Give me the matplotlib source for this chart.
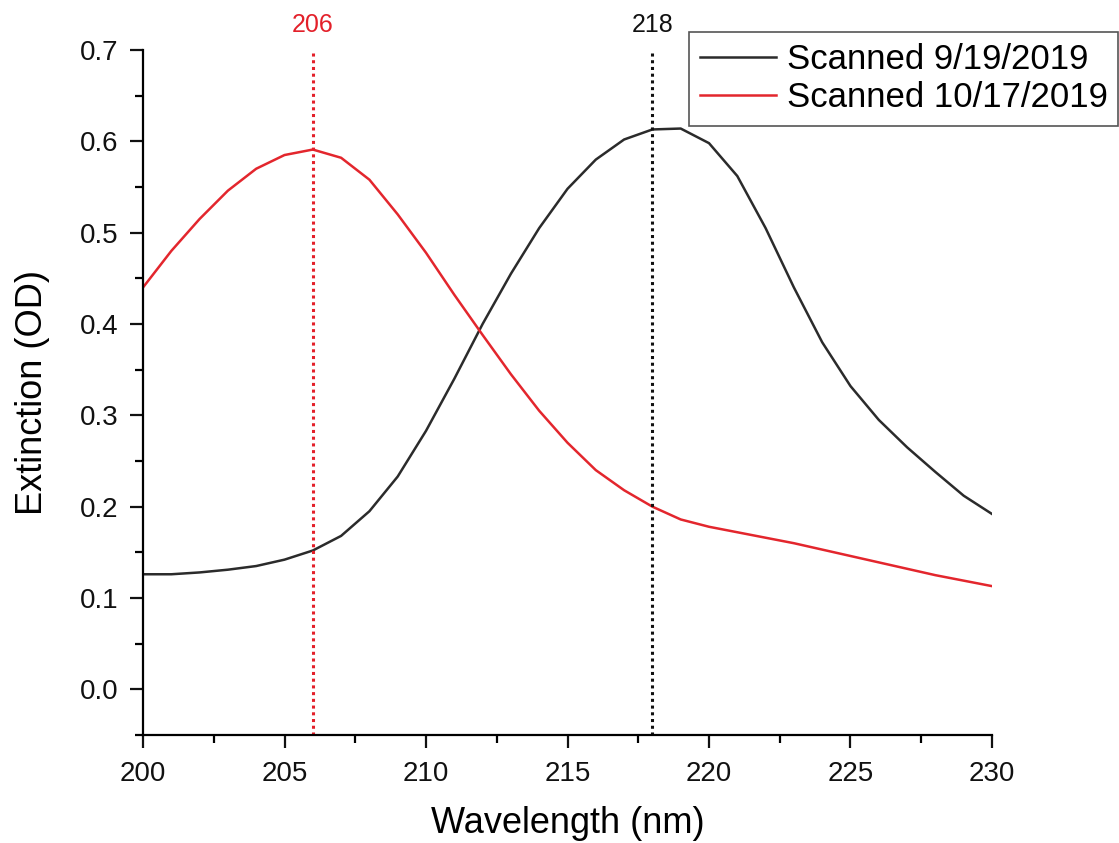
import matplotlib
matplotlib.use("Agg")
import matplotlib.pyplot as plt
from matplotlib.ticker import MultipleLocator

plt.rcParams['font.family'] = ['Liberation Sans', 'DejaVu Sans']

# dados
wavelength = list(range(200, 231))
scan_0919 = [0.126, 0.126, 0.128, 0.131, 0.135, 0.142, 0.152, 0.168, 0.195, 0.233,
             0.283, 0.340, 0.400, 0.455, 0.505, 0.548, 0.580, 0.602, 0.613, 0.614,
             0.598, 0.562, 0.505, 0.440, 0.380, 0.332, 0.295, 0.265, 0.238, 0.212,
             0.192]
scan_1017 = [0.440, 0.480, 0.515, 0.546, 0.570, 0.585, 0.591, 0.582, 0.558, 0.520,
             0.478, 0.432, 0.388, 0.345, 0.305, 0.270, 0.240, 0.218, 0.200, 0.186,
             0.178, 0.172, 0.166, 0.160, 0.153, 0.146, 0.139, 0.132, 0.125, 0.119,
             0.113]
peaks = [206, 218]
peak_colors = ["#e3202a", "#111111"]
series_names = ["Scanned 9/19/2019", "Scanned 10/17/2019"]

fig = plt.figure(figsize=(11.19, 8.43), dpi=100)
ax = fig.add_axes([0.1278, 0.1281, 0.7587, 0.8126])

ax.plot(wavelength, scan_0919, color="#2b2b2b", lw=1.8, label=series_names[0])
ax.plot(wavelength, scan_1017, color="#e3262d", lw=1.8, label=series_names[1])

# linhas dos picos
for p, c in zip(peaks, peak_colors):
    ax.plot([p, p], [-0.05, 0.7], color=c, lw=2.2, ls=(0, (1, 1.2)))
    ax.text(p, 0.714, str(p), color=c, fontsize=18, ha="center", va="bottom")

ax.set_xlim(200, 230)
ax.set_ylim(-0.05, 0.7)
ax.xaxis.set_major_locator(MultipleLocator(5))
ax.xaxis.set_minor_locator(MultipleLocator(2.5))
ax.yaxis.set_major_locator(MultipleLocator(0.1))
ax.yaxis.set_minor_locator(MultipleLocator(0.05))
ax.yaxis.set_major_formatter(matplotlib.ticker.FormatStrFormatter("%.1f"))

for s in ["top", "right"]:
    ax.spines[s].set_visible(False)
for s in ["left", "bottom"]:
    ax.spines[s].set_linewidth(1.6)
ax.tick_params(which="major", direction="out", length=9.5, width=1.6, labelsize=20, colors="#111111")
ax.tick_params(axis="x", which="major", pad=9)
ax.tick_params(axis="y", which="major", pad=8)
ax.tick_params(which="minor", direction="out", length=5.5, width=1.6)

ax.set_xlabel("Wavelength (nm)", fontsize=26)
ax.set_ylabel("Extinction (OD)", fontsize=26)
ax.xaxis.set_label_coords(0.5, -0.104)
ax.yaxis.set_label_coords(-0.11, 0.5)

leg = ax.legend(loc="upper right", bbox_to_anchor=(1.149, 1.026), fontsize=25,
                fancybox=False, edgecolor="#555555", framealpha=1,
                handlelength=2.2, handletextpad=0.3, borderpad=0.32, labelspacing=0.15,
                borderaxespad=0)
leg.get_frame().set_linewidth(1.2)

plt.savefig("out.png", dpi=100)
